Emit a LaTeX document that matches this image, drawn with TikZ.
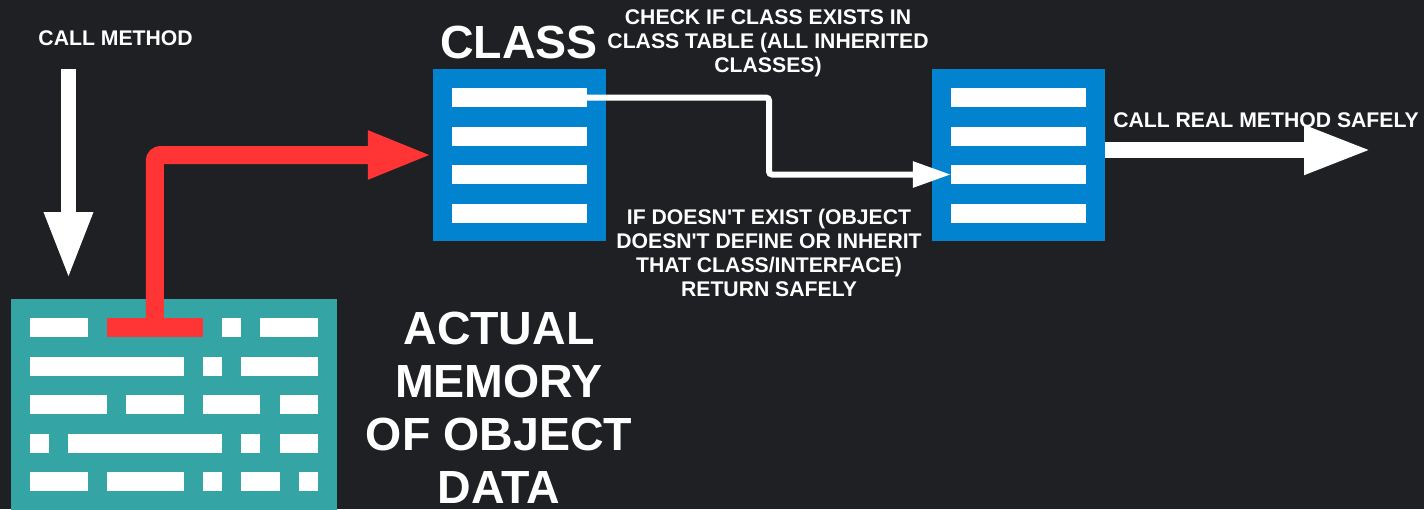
\documentclass[tikz,border=0pt]{standalone}
\usepackage{fontspec}
\setmainfont{Liberation Sans}[Ligatures=TeXOff]
\usetikzlibrary{arrows.meta,calc}
\definecolor{bgdark}{HTML}{1F2023}
\definecolor{tblblue}{HTML}{0283D0}
\definecolor{memteal}{HTML}{34A4A4}
\definecolor{ptrred}{HTML}{FF3434}
\tikzset{lbl/.style={text=white,inner sep=0pt,align=center,font=\bfseries\fontsize{21.2}{24}\selectfont},
         biglbl/.style={text=white,inner sep=0pt,align=center,font=\bfseries\fontsize{46.5}{53}\selectfont},
         tbl/.style={fill=tblblue,inner sep=0pt,minimum width=173pt,minimum height=172pt},
         tblrow/.style={fill=white,inner sep=0pt,minimum width=135pt,minimum height=19pt},
         ptrarrow/.style={draw=ptrred,line width=18pt,rounded corners=6pt,-{Triangle[length=65pt,width=44pt]}},
         fatarrow/.style={draw=white,line width=15pt,-{Triangle[length=67pt,width=45pt]}},
         link/.style={draw=white,line width=6pt,rounded corners=3pt,-{Triangle[length=38pt,width=25pt]}}}
\begin{document}
\begin{tikzpicture}[x=1pt,y=-1pt]
  \fill[bgdark] (0,0) rectangle (1424,509);
  \useasboundingbox (0,0) rectangle (1424,509);

  \node[fill=memteal,inner sep=0pt,minimum width=326.4pt,minimum height=211.2pt] (mem) at (174,404.6) {};
  \foreach \r/\s/\n in {0/0/3,0/10/1,0/12/3,1/0/8,1/9/1,1/11/4,2/0/4,2/5/3,2/9/3,2/13/2,
      3/0/1,3/2/8,3/11/1,3/13/2,4/0/3,4/4/4,4/9/1,4/11/2,4/14/1}
    \fill[white] ({30+19.2*\s},{318+38.5*\r}) rectangle ++({19.2*\n},19.2);
  \node[fill=ptrred,inner sep=0pt,minimum width=96pt,minimum height=19.2pt] (ptr) at (154.8,327.6) {};

  \node[tbl] (cls1) at (519.5,155) {};
  \node[tbl] (cls2) at (1018,155) {};
  \foreach \b in {1,...,4}{
    \node[tblrow] (c1r\b) at (519.5,{59+38.5*\b}) {};
    \node[tblrow] (c2r\b) at (1018.5,{59+38.5*\b}) {};
  }

  \node[lbl,anchor=base] (callm) at (115.6,45) {CALL METHOD};
  \node[biglbl,anchor=base] (clsname) at (519,58) {CLASS};
  \node[lbl,anchor=north] (check) at (768,9) {CHECK IF CLASS EXISTS IN\\CLASS TABLE (ALL INHERITED\\CLASSES)};
  \node[lbl,anchor=north] (noexist) at (769,209) {IF DOESN'T EXIST (OBJECT\\DOESN'T DEFINE OR INHERIT\\THAT CLASS/INTERFACE)\\RETURN SAFELY};
  \node[lbl,anchor=base] (callreal) at (1266,127) {CALL REAL METHOD SAFELY};
  \node[biglbl,anchor=north] (memlbl) at (499,312) {ACTUAL\\MEMORY\\OF OBJECT\\DATA};

  \coordinate (callstart) at (68.5,69);
  \coordinate (callend) at (68.5,279);
  \coordinate (outend) at (1372,150);
  \coordinate (bend) at ($(c1r1.east)!.5!(c2r3.west)$);
  \draw[fatarrow] (callstart) -- (callend);
  \draw[ptrarrow] (ptr.north) |- (cls1.west);
  \draw[link] (c1r1.east) -| (bend) |- (c2r3.west);
  \draw[fatarrow,line width=16pt,-{Triangle[length=68pt,width=45pt]}] (cls2.east |- outend) -- (outend);
\end{tikzpicture}
\end{document}
